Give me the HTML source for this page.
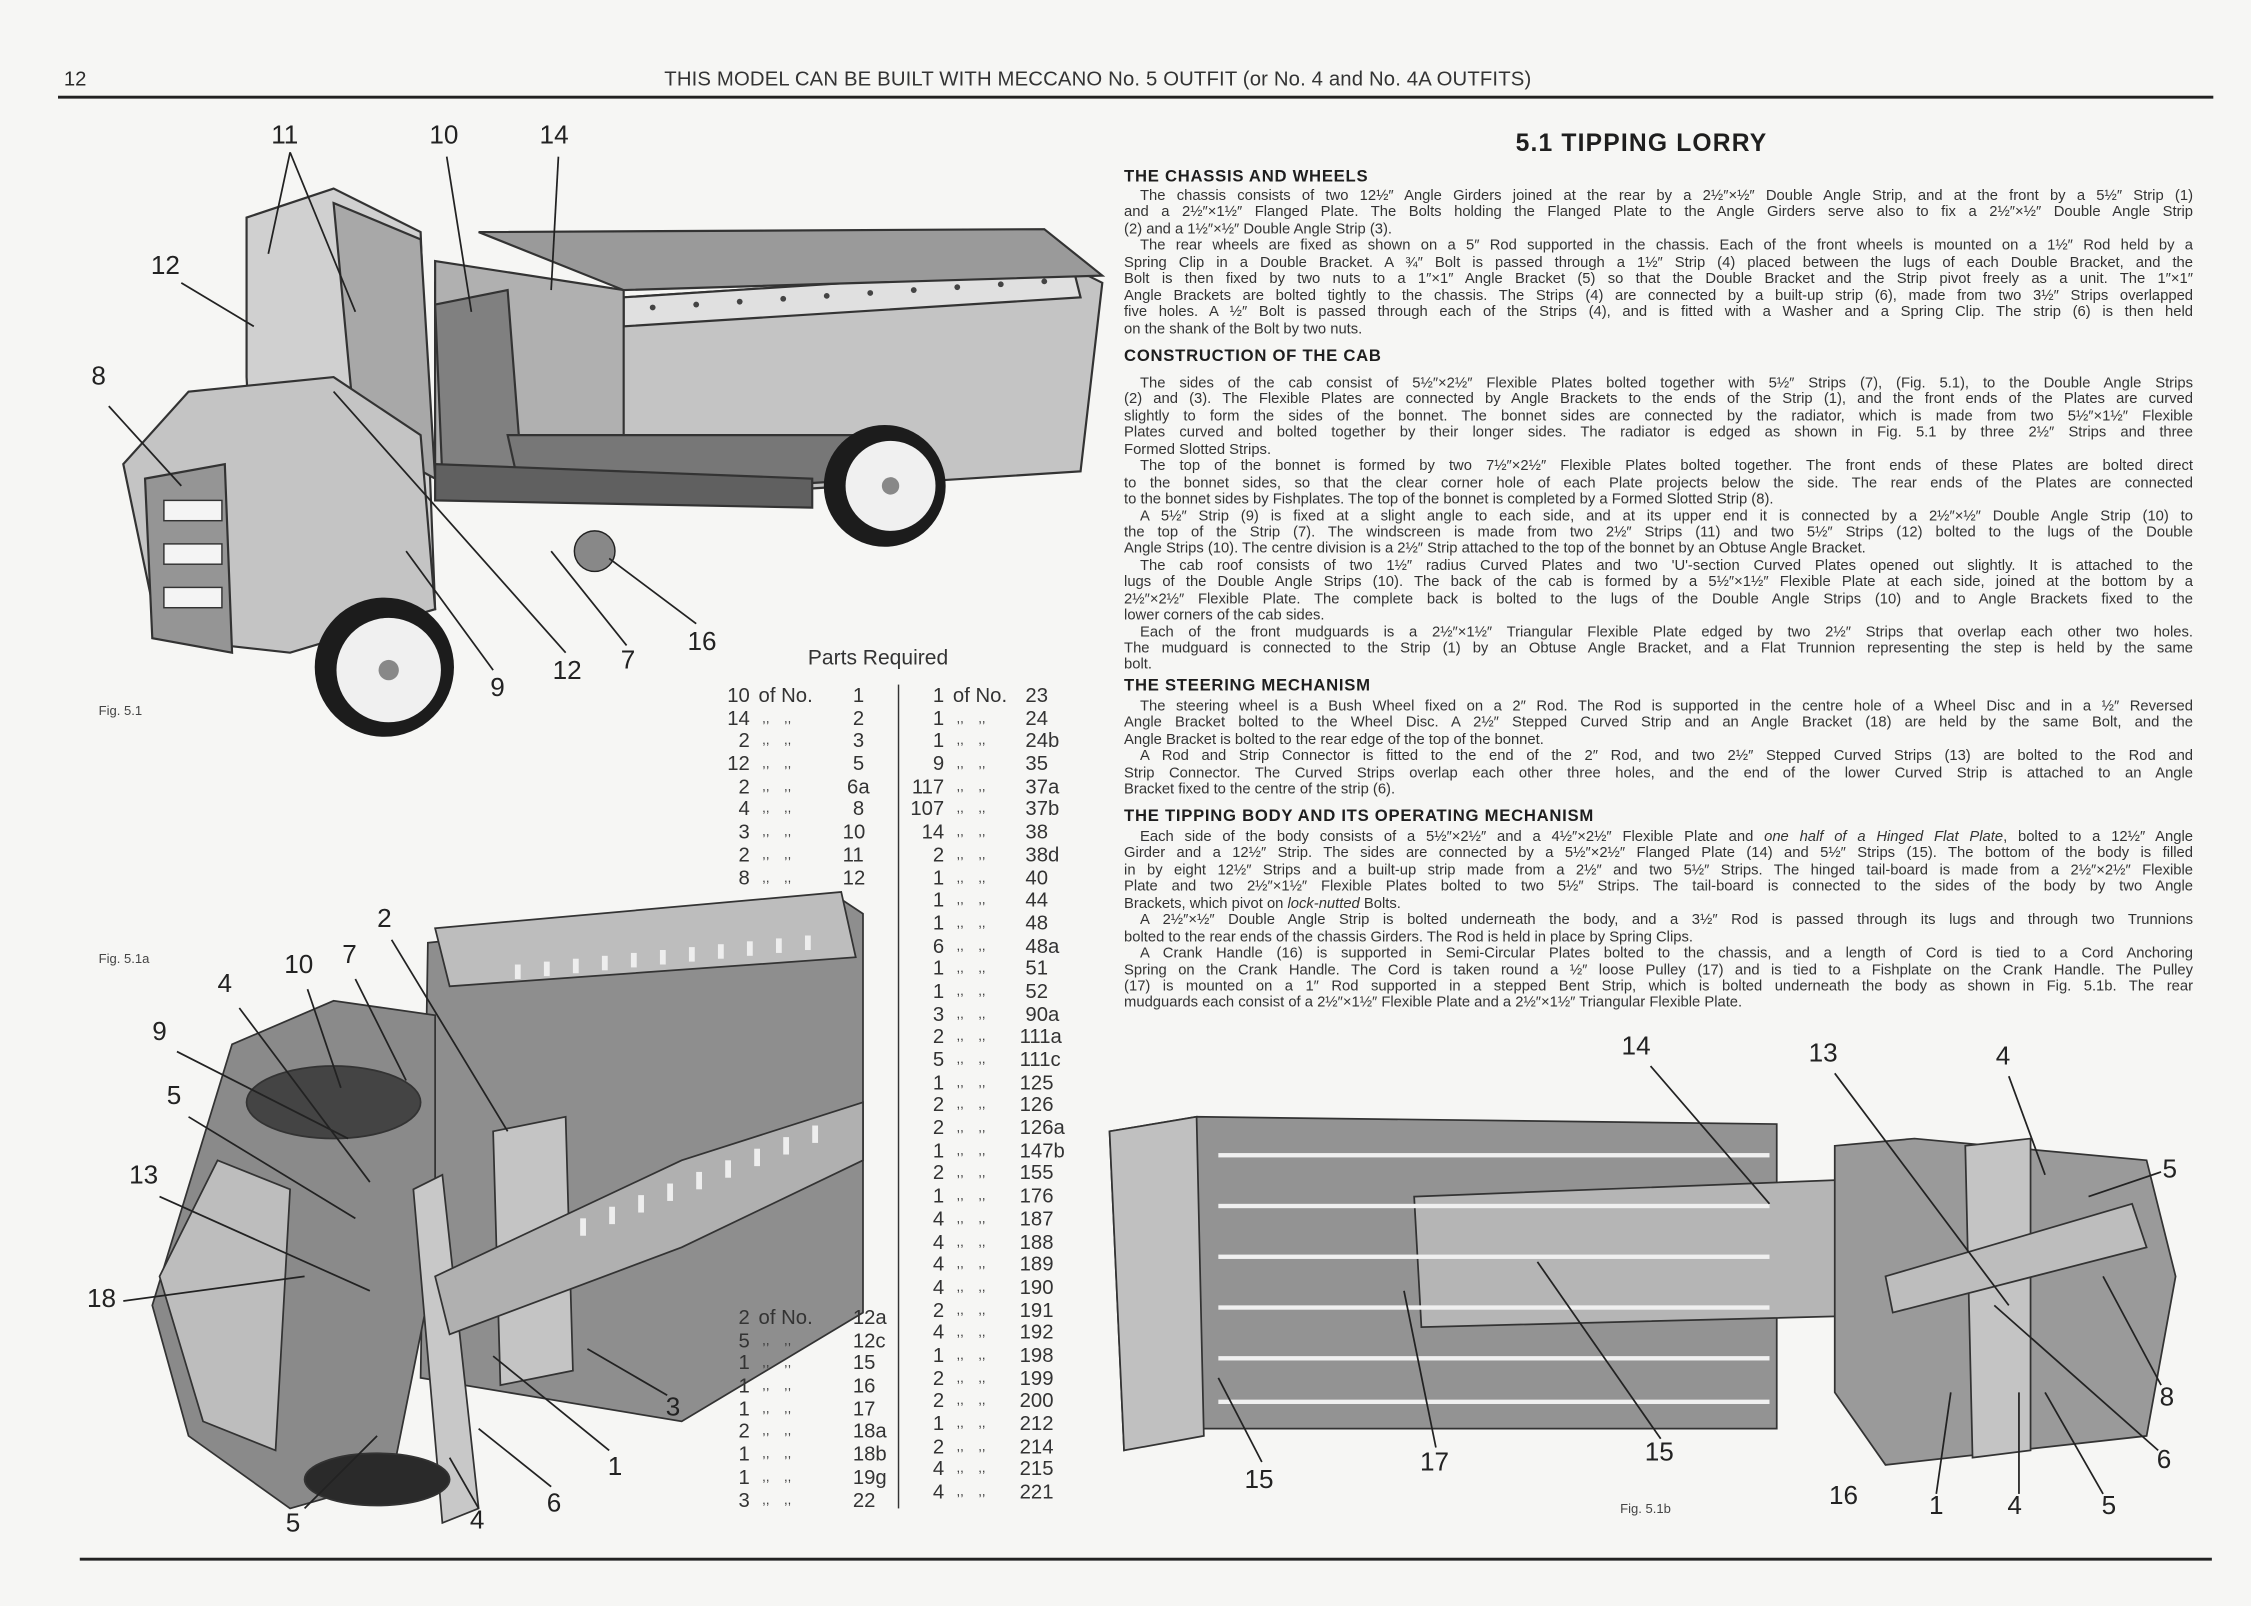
<!DOCTYPE html>
<html><head><meta charset="utf-8">
<style>
html,body{margin:0;padding:0;background:#f6f6f4;}
body{width:2251px;height:1605px;overflow:hidden;position:relative;}
#pg{position:absolute;left:0;top:0;width:1552px;height:1107px;transform:scale(1.4504);transform-origin:0 0;font-family:"Liberation Sans",sans-serif;color:#2a2a2a;}
.abs{position:absolute;}
.sec{position:absolute;left:775px;width:737px;font-size:10.2px;line-height:11.45px;color:#333;}
.sec div{text-align:justify;text-align-last:justify;white-space:nowrap;height:11.45px;}
.sec div.l{text-align-last:left;}
.sec div.i{padding-left:11px;}
.h{position:absolute;left:775px;font-weight:bold;font-size:11.5px;letter-spacing:0.5px;color:#1e1e1e;}
.num{position:absolute;font-size:18px;color:#222;}
.pl{position:absolute;font-size:14px;color:#333;}
.pl div{height:15.7px;line-height:15.7px;white-space:nowrap;position:relative;}
.pl span{position:absolute;top:0;}
.pl .q{right:auto;text-align:right;width:24px;left:0;}
.pl .o{left:30px;}
.pl .d{font-size:9px;}
</style></head><body>
<div id="pg">
<div class="abs" style="left:44px;top:46px;font-size:14px;">12</div>
<div class="abs" style="left:458px;top:46px;font-size:14px;color:#333;letter-spacing:0.1px;">THIS MODEL CAN BE BUILT WITH MECCANO No. 5 OUTFIT (or No. 4 and No. 4A OUTFITS)</div>
<div class="abs" style="left:40px;top:66px;width:1486px;height:1.5px;background:#222;"></div>
<div class="abs" style="left:55px;top:1074px;width:1470px;height:1.5px;background:#222;"></div>

<svg class="abs" style="left:0;top:0" width="1552" height="1107" viewBox="0 0 1552 1107">
<g stroke="#333" stroke-width="1.5">
<polygon points="300,195 430,205 740,185 760,195 745,325 430,345 300,320" fill="#c4c4c4"/>
<polygon points="430,205 740,185 745,205 430,225" fill="#e0e0e0"/>
<polygon points="300,180 430,200 430,345 300,330" fill="#b0b0b0"/>
<polygon points="330,160 720,158 760,190 430,200" fill="#9a9a9a"/>
<polygon points="170,150 230,130 290,160 300,420 180,440 170,260" fill="#d0d0d0"/>
<polygon points="230,140 290,165 300,330 245,300" fill="#a8a8a8"/>
<polygon points="300,210 350,200 360,330 305,330" fill="#808080"/>
<polygon points="85,320 130,270 230,260 290,300 300,420 200,450 110,440" fill="#c4c4c4"/>
<polygon points="100,330 155,320 160,450 105,440" fill="#959595"/>
<polygon points="350,300 600,300 610,330 360,345" fill="#777"/>
<polygon points="300,320 560,330 560,350 300,345" fill="#606060"/>
</g>
<g fill="#f4f4f4" stroke="#333">
<rect x="113" y="345" width="40" height="14"/><rect x="113" y="375" width="40" height="14"/><rect x="113" y="405" width="40" height="14"/>
</g>
<circle cx="265" cy="460" r="48" fill="#1c1c1c"/><circle cx="268" cy="462" r="36" fill="#f0f0f0"/><circle cx="268" cy="462" r="7" fill="#888"/>
<circle cx="610" cy="335" r="42" fill="#1c1c1c"/><circle cx="614" cy="335" r="31" fill="#f0f0f0"/><circle cx="614" cy="335" r="6" fill="#888"/>
<circle cx="410" cy="380" r="14" fill="#888" stroke="#222"/>
<g fill="#444">
<circle cx="450" cy="212" r="2"/><circle cx="480" cy="210" r="2"/><circle cx="510" cy="208" r="2"/><circle cx="540" cy="206" r="2"/><circle cx="570" cy="204" r="2"/><circle cx="600" cy="202" r="2"/><circle cx="630" cy="200" r="2"/><circle cx="660" cy="198" r="2"/><circle cx="690" cy="196" r="2"/><circle cx="720" cy="194" r="2"/>
</g>
<g stroke="#333" stroke-width="1.2">
<polygon points="295,650 580,620 595,630 595,905 470,980 290,950" fill="#8e8e8e"/>
<polygon points="300,640 580,615 590,660 310,680" fill="#bdbdbd"/>
<polygon points="160,720 230,690 300,700 300,870 270,1020 200,1040 130,990 105,900" fill="#8a8a8a"/>
<polygon points="110,880 150,800 200,820 190,1000 140,980" fill="#bdbdbd"/>
<polygon points="285,820 305,810 330,1040 305,1050" fill="#c8c8c8"/>
<polygon points="340,780 390,770 395,945 345,955" fill="#c4c4c4"/>
<polygon points="300,880 470,800 595,760 595,800 470,860 310,920" fill="#b0b0b0"/>
<ellipse cx="260" cy="1020" rx="50" ry="18" fill="#2a2a2a"/>
<ellipse cx="230" cy="760" rx="60" ry="25" fill="#444"/>
</g>
<g fill="#eee">
<rect x="355" y="665" width="4" height="10"/><rect x="375" y="663" width="4" height="10"/><rect x="395" y="661" width="4" height="10"/><rect x="415" y="659" width="4" height="10"/><rect x="435" y="657" width="4" height="10"/><rect x="455" y="655" width="4" height="10"/><rect x="475" y="653" width="4" height="10"/><rect x="495" y="651" width="4" height="10"/><rect x="515" y="649" width="4" height="10"/><rect x="535" y="647" width="4" height="10"/><rect x="555" y="645" width="4" height="10"/>
<rect x="400" y="840" width="4" height="12"/><rect x="420" y="832" width="4" height="12"/><rect x="440" y="824" width="4" height="12"/><rect x="460" y="816" width="4" height="12"/><rect x="480" y="808" width="4" height="12"/><rect x="500" y="800" width="4" height="12"/><rect x="520" y="792" width="4" height="12"/><rect x="540" y="784" width="4" height="12"/><rect x="560" y="776" width="4" height="12"/>
</g>
<g stroke="#333" stroke-width="1.2">
<polygon points="765,780 825,770 1225,775 1225,985 830,985 775,1000" fill="#939393"/>
<polygon points="765,780 825,770 830,990 775,1000" fill="#c0c0c0"/>
<polygon points="975,825 1360,810 1365,905 980,915" fill="#b5b5b5"/>
<polygon points="1265,790 1320,785 1480,800 1500,880 1480,990 1300,1010 1265,960" fill="#9a9a9a"/>
<polygon points="1355,790 1400,785 1400,1000 1360,1005" fill="#c4c4c4"/>
<polygon points="1300,880 1470,830 1480,860 1305,905" fill="#bdbdbd"/>
</g>
<g fill="#f0f0f0">
<rect x="840" y="795" width="380" height="3"/><rect x="840" y="830" width="380" height="3"/><rect x="840" y="865" width="380" height="3"/><rect x="840" y="900" width="380" height="3"/><rect x="840" y="935" width="380" height="3"/><rect x="840" y="965" width="380" height="3"/>
</g>
<g stroke="#222" stroke-width="1.2" fill="none">
<line x1="200" y1="105" x2="185" y2="175"/><line x1="200" y1="105" x2="245" y2="215"/>
<line x1="308" y1="108" x2="325" y2="215"/><line x1="385" y1="108" x2="380" y2="200"/>
<line x1="125" y1="195" x2="175" y2="225"/><line x1="75" y1="280" x2="125" y2="335"/>
<line x1="480" y1="430" x2="420" y2="385"/><line x1="390" y1="450" x2="230" y2="270"/>
<line x1="432" y1="445" x2="380" y2="380"/><line x1="340" y1="462" x2="280" y2="380"/>
<line x1="270" y1="648" x2="350" y2="780"/><line x1="212" y1="682" x2="235" y2="750"/>
<line x1="245" y1="675" x2="280" y2="745"/><line x1="165" y1="695" x2="255" y2="815"/>
<line x1="122" y1="725" x2="240" y2="785"/><line x1="130" y1="770" x2="245" y2="840"/>
<line x1="110" y1="825" x2="255" y2="890"/><line x1="85" y1="897" x2="210" y2="880"/>
<line x1="460" y1="962" x2="405" y2="930"/><line x1="420" y1="1000" x2="340" y2="935"/>
<line x1="380" y1="1025" x2="330" y2="985"/><line x1="210" y1="1040" x2="260" y2="990"/>
<line x1="330" y1="1040" x2="310" y2="1005"/>
<line x1="1138" y1="735" x2="1220" y2="830"/><line x1="1265" y1="740" x2="1385" y2="900"/>
<line x1="1385" y1="742" x2="1410" y2="810"/><line x1="1490" y1="808" x2="1440" y2="825"/>
<line x1="1490" y1="955" x2="1450" y2="880"/><line x1="1488" y1="1000" x2="1375" y2="900"/>
<line x1="1450" y1="1030" x2="1410" y2="960"/><line x1="1392" y1="1030" x2="1392" y2="960"/>
<line x1="1335" y1="1030" x2="1345" y2="960"/><line x1="1145" y1="992" x2="1060" y2="870"/>
<line x1="990" y1="998" x2="968" y2="890"/><line x1="870" y1="1008" x2="840" y2="950"/>
</g>
</svg>

<div class="num" style="left:187px;top:83px;">11</div><div class="num" style="left:296px;top:83px;">10</div><div class="num" style="left:372px;top:83px;">14</div>
<div class="num" style="left:104px;top:173px;">12</div><div class="num" style="left:63px;top:249px;">8</div>
<div class="num" style="left:474px;top:432px;">16</div><div class="num" style="left:381px;top:452px;">12</div><div class="num" style="left:428px;top:445px;">7</div><div class="num" style="left:338px;top:464px;">9</div>
<div class="num" style="left:260px;top:623px;">2</div><div class="num" style="left:196px;top:655px;">10</div><div class="num" style="left:236px;top:648px;">7</div><div class="num" style="left:150px;top:668px;">4</div>
<div class="num" style="left:105px;top:701px;">9</div><div class="num" style="left:115px;top:745px;">5</div><div class="num" style="left:89px;top:800px;">13</div><div class="num" style="left:60px;top:885px;">18</div>
<div class="num" style="left:459px;top:960px;">3</div><div class="num" style="left:419px;top:1001px;">1</div><div class="num" style="left:377px;top:1026px;">6</div><div class="num" style="left:197px;top:1040px;">5</div><div class="num" style="left:324px;top:1038px;">4</div>
<div class="num" style="left:1118px;top:711px;">14</div><div class="num" style="left:1247px;top:716px;">13</div><div class="num" style="left:1376px;top:718px;">4</div><div class="num" style="left:1491px;top:796px;">5</div>
<div class="num" style="left:1489px;top:953px;">8</div><div class="num" style="left:1487px;top:996px;">6</div><div class="num" style="left:1449px;top:1028px;">5</div><div class="num" style="left:1384px;top:1028px;">4</div><div class="num" style="left:1330px;top:1028px;">1</div>
<div class="num" style="left:1261px;top:1021px;">16</div><div class="num" style="left:1134px;top:991px;">15</div><div class="num" style="left:979px;top:998px;">17</div><div class="num" style="left:858px;top:1010px;">15</div>

<div class="abs" style="left:68px;top:485px;font-size:9px;color:#444;">Fig. 5.1</div>
<div class="abs" style="left:68px;top:656px;font-size:9px;color:#444;">Fig. 5.1a</div>
<div class="abs" style="left:1117px;top:1035px;font-size:9px;color:#444;">Fig. 5.1b</div>

<div class="abs" style="left:557px;top:446px;font-size:14.5px;color:#333;">Parts Required</div>
<div class="abs" style="left:619px;top:472px;width:1px;height:568px;background:#333;"></div>

<div class="pl" style="left:493px;top:472px;width:110px;">
<div><span class="q">10</span><span class="o">of No.</span><span style="left:95px">1</span></div>
<div><span class="q">14</span><span class="o d">&nbsp;,,&nbsp;&nbsp;&nbsp;&nbsp;,,</span><span style="left:95px">2</span></div>
<div><span class="q">2</span><span class="o d">&nbsp;,,&nbsp;&nbsp;&nbsp;&nbsp;,,</span><span style="left:95px">3</span></div>
<div><span class="q">12</span><span class="o d">&nbsp;,,&nbsp;&nbsp;&nbsp;&nbsp;,,</span><span style="left:95px">5</span></div>
<div><span class="q">2</span><span class="o d">&nbsp;,,&nbsp;&nbsp;&nbsp;&nbsp;,,</span><span style="left:91px">6a</span></div>
<div><span class="q">4</span><span class="o d">&nbsp;,,&nbsp;&nbsp;&nbsp;&nbsp;,,</span><span style="left:95px">8</span></div>
<div><span class="q">3</span><span class="o d">&nbsp;,,&nbsp;&nbsp;&nbsp;&nbsp;,,</span><span style="left:88px">10</span></div>
<div><span class="q">2</span><span class="o d">&nbsp;,,&nbsp;&nbsp;&nbsp;&nbsp;,,</span><span style="left:88px">11</span></div>
<div><span class="q">8</span><span class="o d">&nbsp;,,&nbsp;&nbsp;&nbsp;&nbsp;,,</span><span style="left:88px">12</span></div>
</div>

<div class="pl" style="left:493px;top:901px;width:120px;">
<div><span class="q">2</span><span class="o">of No.</span><span style="left:95px">12a</span></div>
<div><span class="q">5</span><span class="o d">&nbsp;,,&nbsp;&nbsp;&nbsp;&nbsp;,,</span><span style="left:95px">12c</span></div>
<div><span class="q">1</span><span class="o d">&nbsp;,,&nbsp;&nbsp;&nbsp;&nbsp;,,</span><span style="left:95px">15</span></div>
<div><span class="q">1</span><span class="o d">&nbsp;,,&nbsp;&nbsp;&nbsp;&nbsp;,,</span><span style="left:95px">16</span></div>
<div><span class="q">1</span><span class="o d">&nbsp;,,&nbsp;&nbsp;&nbsp;&nbsp;,,</span><span style="left:95px">17</span></div>
<div><span class="q">2</span><span class="o d">&nbsp;,,&nbsp;&nbsp;&nbsp;&nbsp;,,</span><span style="left:95px">18a</span></div>
<div><span class="q">1</span><span class="o d">&nbsp;,,&nbsp;&nbsp;&nbsp;&nbsp;,,</span><span style="left:95px">18b</span></div>
<div><span class="q">1</span><span class="o d">&nbsp;,,&nbsp;&nbsp;&nbsp;&nbsp;,,</span><span style="left:95px">19g</span></div>
<div><span class="q">3</span><span class="o d">&nbsp;,,&nbsp;&nbsp;&nbsp;&nbsp;,,</span><span style="left:95px">22</span></div>
</div>

<div class="pl" style="left:627px;top:472px;width:110px;">
<div><span class="q">1</span><span class="o">of No.</span><span style="left:80px">23</span></div>
<div><span class="q">1</span><span class="o d">&nbsp;,,&nbsp;&nbsp;&nbsp;&nbsp;,,</span><span style="left:80px">24</span></div>
<div><span class="q">1</span><span class="o d">&nbsp;,,&nbsp;&nbsp;&nbsp;&nbsp;,,</span><span style="left:80px">24b</span></div>
<div><span class="q">9</span><span class="o d">&nbsp;,,&nbsp;&nbsp;&nbsp;&nbsp;,,</span><span style="left:80px">35</span></div>
<div><span class="q">117</span><span class="o d">&nbsp;,,&nbsp;&nbsp;&nbsp;&nbsp;,,</span><span style="left:80px">37a</span></div>
<div><span class="q">107</span><span class="o d">&nbsp;,,&nbsp;&nbsp;&nbsp;&nbsp;,,</span><span style="left:80px">37b</span></div>
<div><span class="q">14</span><span class="o d">&nbsp;,,&nbsp;&nbsp;&nbsp;&nbsp;,,</span><span style="left:80px">38</span></div>
<div><span class="q">2</span><span class="o d">&nbsp;,,&nbsp;&nbsp;&nbsp;&nbsp;,,</span><span style="left:80px">38d</span></div>
<div><span class="q">1</span><span class="o d">&nbsp;,,&nbsp;&nbsp;&nbsp;&nbsp;,,</span><span style="left:80px">40</span></div>
<div><span class="q">1</span><span class="o d">&nbsp;,,&nbsp;&nbsp;&nbsp;&nbsp;,,</span><span style="left:80px">44</span></div>
<div><span class="q">1</span><span class="o d">&nbsp;,,&nbsp;&nbsp;&nbsp;&nbsp;,,</span><span style="left:80px">48</span></div>
<div><span class="q">6</span><span class="o d">&nbsp;,,&nbsp;&nbsp;&nbsp;&nbsp;,,</span><span style="left:80px">48a</span></div>
<div><span class="q">1</span><span class="o d">&nbsp;,,&nbsp;&nbsp;&nbsp;&nbsp;,,</span><span style="left:80px">51</span></div>
<div><span class="q">1</span><span class="o d">&nbsp;,,&nbsp;&nbsp;&nbsp;&nbsp;,,</span><span style="left:80px">52</span></div>
<div><span class="q">3</span><span class="o d">&nbsp;,,&nbsp;&nbsp;&nbsp;&nbsp;,,</span><span style="left:80px">90a</span></div>
<div><span class="q">2</span><span class="o d">&nbsp;,,&nbsp;&nbsp;&nbsp;&nbsp;,,</span><span style="left:76px">111a</span></div>
<div><span class="q">5</span><span class="o d">&nbsp;,,&nbsp;&nbsp;&nbsp;&nbsp;,,</span><span style="left:76px">111c</span></div>
<div><span class="q">1</span><span class="o d">&nbsp;,,&nbsp;&nbsp;&nbsp;&nbsp;,,</span><span style="left:76px">125</span></div>
<div><span class="q">2</span><span class="o d">&nbsp;,,&nbsp;&nbsp;&nbsp;&nbsp;,,</span><span style="left:76px">126</span></div>
<div><span class="q">2</span><span class="o d">&nbsp;,,&nbsp;&nbsp;&nbsp;&nbsp;,,</span><span style="left:76px">126a</span></div>
<div><span class="q">1</span><span class="o d">&nbsp;,,&nbsp;&nbsp;&nbsp;&nbsp;,,</span><span style="left:76px">147b</span></div>
<div><span class="q">2</span><span class="o d">&nbsp;,,&nbsp;&nbsp;&nbsp;&nbsp;,,</span><span style="left:76px">155</span></div>
<div><span class="q">1</span><span class="o d">&nbsp;,,&nbsp;&nbsp;&nbsp;&nbsp;,,</span><span style="left:76px">176</span></div>
<div><span class="q">4</span><span class="o d">&nbsp;,,&nbsp;&nbsp;&nbsp;&nbsp;,,</span><span style="left:76px">187</span></div>
<div><span class="q">4</span><span class="o d">&nbsp;,,&nbsp;&nbsp;&nbsp;&nbsp;,,</span><span style="left:76px">188</span></div>
<div><span class="q">4</span><span class="o d">&nbsp;,,&nbsp;&nbsp;&nbsp;&nbsp;,,</span><span style="left:76px">189</span></div>
<div><span class="q">4</span><span class="o d">&nbsp;,,&nbsp;&nbsp;&nbsp;&nbsp;,,</span><span style="left:76px">190</span></div>
<div><span class="q">2</span><span class="o d">&nbsp;,,&nbsp;&nbsp;&nbsp;&nbsp;,,</span><span style="left:76px">191</span></div>
<div><span class="q">4</span><span class="o d">&nbsp;,,&nbsp;&nbsp;&nbsp;&nbsp;,,</span><span style="left:76px">192</span></div>
<div><span class="q">1</span><span class="o d">&nbsp;,,&nbsp;&nbsp;&nbsp;&nbsp;,,</span><span style="left:76px">198</span></div>
<div><span class="q">2</span><span class="o d">&nbsp;,,&nbsp;&nbsp;&nbsp;&nbsp;,,</span><span style="left:76px">199</span></div>
<div><span class="q">2</span><span class="o d">&nbsp;,,&nbsp;&nbsp;&nbsp;&nbsp;,,</span><span style="left:76px">200</span></div>
<div><span class="q">1</span><span class="o d">&nbsp;,,&nbsp;&nbsp;&nbsp;&nbsp;,,</span><span style="left:76px">212</span></div>
<div><span class="q">2</span><span class="o d">&nbsp;,,&nbsp;&nbsp;&nbsp;&nbsp;,,</span><span style="left:76px">214</span></div>
<div><span class="q">4</span><span class="o d">&nbsp;,,&nbsp;&nbsp;&nbsp;&nbsp;,,</span><span style="left:76px">215</span></div>
<div><span class="q">4</span><span class="o d">&nbsp;,,&nbsp;&nbsp;&nbsp;&nbsp;,,</span><span style="left:76px">221</span></div>
</div>

<div class="abs" style="left:1045px;top:89px;font-size:17px;font-weight:bold;letter-spacing:0.8px;color:#1e1e1e;">5.1 TIPPING LORRY</div>

<div class="h" style="top:116px;">THE CHASSIS AND WHEELS</div>
<div class="sec" style="top:130px;">
<div class="i">The chassis consists of two 12½″ Angle Girders joined at the rear by a 2½″×½″ Double Angle Strip, and at the front by a 5½″ Strip (1)</div>
<div>and a 2½″×1½″ Flanged Plate. The Bolts holding the Flanged Plate to the Angle Girders serve also to fix a 2½″×½″ Double Angle Strip</div>
<div class="l">(2) and a 1½″×½″ Double Angle Strip (3).</div>
<div class="i">The rear wheels are fixed as shown on a 5″ Rod supported in the chassis. Each of the front wheels is mounted on a 1½″ Rod held by a</div>
<div>Spring Clip in a Double Bracket. A ¾″ Bolt is passed through a 1½″ Strip (4) placed between the lugs of each Double Bracket, and the</div>
<div>Bolt is then fixed by two nuts to a 1″×1″ Angle Bracket (5) so that the Double Bracket and the Strip pivot freely as a unit. The 1″×1″</div>
<div>Angle Brackets are bolted tightly to the chassis. The Strips (4) are connected by a built-up strip (6), made from two 3½″ Strips overlapped</div>
<div>five holes. A ½″ Bolt is passed through each of the Strips (4), and is fitted with a Washer and a Spring Clip. The strip (6) is then held</div>
<div class="l">on the shank of the Bolt by two nuts.</div>
</div>

<div class="h" style="top:240px;">CONSTRUCTION OF THE CAB</div>
<div class="sec" style="top:259px;">
<div class="i">The sides of the cab consist of 5½″×2½″ Flexible Plates bolted together with 5½″ Strips (7), (Fig. 5.1), to the Double Angle Strips</div>
<div>(2) and (3). The Flexible Plates are connected by Angle Brackets to the ends of the Strip (1), and the front ends of the Plates are curved</div>
<div>slightly to form the sides of the bonnet. The bonnet sides are connected by the radiator, which is made from two 5½″×1½″ Flexible</div>
<div>Plates curved and bolted together by their longer sides. The radiator is edged as shown in Fig. 5.1 by three 2½″ Strips and three</div>
<div class="l">Formed Slotted Strips.</div>
<div class="i">The top of the bonnet is formed by two 7½″×2½″ Flexible Plates bolted together. The front ends of these Plates are bolted direct</div>
<div>to the bonnet sides, so that the clear corner hole of each Plate projects below the side. The rear ends of the Plates are connected</div>
<div class="l">to the bonnet sides by Fishplates. The top of the bonnet is completed by a Formed Slotted Strip (8).</div>
<div class="i">A 5½″ Strip (9) is fixed at a slight angle to each side, and at its upper end it is connected by a 2½″×½″ Double Angle Strip (10) to</div>
<div>the top of the Strip (7). The windscreen is made from two 2½″ Strips (11) and two 5½″ Strips (12) bolted to the lugs of the Double</div>
<div class="l">Angle Strips (10). The centre division is a 2½″ Strip attached to the top of the bonnet by an Obtuse Angle Bracket.</div>
<div class="i">The cab roof consists of two 1½″ radius Curved Plates and two 'U'-section Curved Plates opened out slightly. It is attached to the</div>
<div>lugs of the Double Angle Strips (10). The back of the cab is formed by a 5½″×1½″ Flexible Plate at each side, joined at the bottom by a</div>
<div>2½″×2½″ Flexible Plate. The complete back is bolted to the lugs of the Double Angle Strips (10) and to Angle Brackets fixed to the</div>
<div class="l">lower corners of the cab sides.</div>
<div class="i">Each of the front mudguards is a 2½″×1½″ Triangular Flexible Plate edged by two 2½″ Strips that overlap each other two holes.</div>
<div>The mudguard is connected to the Strip (1) by an Obtuse Angle Bracket, and a Flat Trunnion representing the step is held by the same</div>
<div class="l">bolt.</div>
</div>

<div class="h" style="top:467px;">THE STEERING MECHANISM</div>
<div class="sec" style="top:482px;">
<div class="i">The steering wheel is a Bush Wheel fixed on a 2″ Rod. The Rod is supported in the centre hole of a Wheel Disc and in a ½″ Reversed</div>
<div>Angle Bracket bolted to the Wheel Disc. A 2½″ Stepped Curved Strip and an Angle Bracket (18) are held by the same Bolt, and the</div>
<div class="l">Angle Bracket is bolted to the rear edge of the top of the bonnet.</div>
<div class="i">A Rod and Strip Connector is fitted to the end of the 2″ Rod, and two 2½″ Stepped Curved Strips (13) are bolted to the Rod and</div>
<div>Strip Connector. The Curved Strips overlap each other three holes, and the end of the lower Curved Strip is attached to an Angle</div>
<div class="l">Bracket fixed to the centre of the strip (6).</div>
</div>

<div class="h" style="top:557px;">THE TIPPING BODY AND ITS OPERATING MECHANISM</div>
<div class="sec" style="top:572px;">
<div class="i">Each side of the body consists of a 5½″×2½″ and a 4½″×2½″ Flexible Plate and <i>one half of a Hinged Flat Plate</i>, bolted to a 12½″ Angle</div>
<div>Girder and a 12½″ Strip. The sides are connected by a 5½″×2½″ Flanged Plate (14) and 5½″ Strips (15). The bottom of the body is filled</div>
<div>in by eight 12½″ Strips and a built-up strip made from a 2½″ and two 5½″ Strips. The hinged tail-board is made from a 2½″×2½″ Flexible</div>
<div>Plate and two 2½″×1½″ Flexible Plates bolted to two 5½″ Strips. The tail-board is connected to the sides of the body by two Angle</div>
<div class="l">Brackets, which pivot on <i>lock-nutted</i> Bolts.</div>
<div class="i">A 2½″×½″ Double Angle Strip is bolted underneath the body, and a 3½″ Rod is passed through its lugs and through two Trunnions</div>
<div class="l">bolted to the rear ends of the chassis Girders. The Rod is held in place by Spring Clips.</div>
<div class="i">A Crank Handle (16) is supported in Semi-Circular Plates bolted to the chassis, and a length of Cord is tied to a Cord Anchoring</div>
<div>Spring on the Crank Handle. The Cord is taken round a ½″ loose Pulley (17) and is tied to a Fishplate on the Crank Handle. The Pulley</div>
<div>(17) is mounted on a 1″ Rod supported in a stepped Bent Strip, which is bolted underneath the body as shown in Fig. 5.1b. The rear</div>
<div class="l">mudguards each consist of a 2½″×1½″ Flexible Plate and a 2½″×1½″ Triangular Flexible Plate.</div>
</div>
</div>
</body></html>
